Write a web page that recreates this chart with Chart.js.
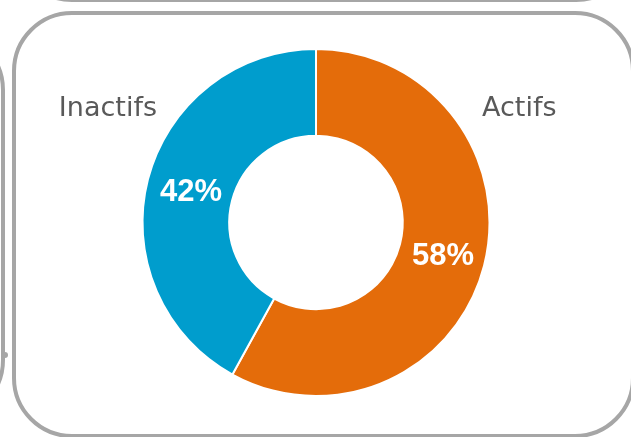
<!DOCTYPE html>
<html>
<head>
<meta charset="utf-8">
<script src="https://cdn.jsdelivr.net/npm/chart.js@4/dist/chart.umd.min.js"></script>
<style>
  html, body { margin: 0; padding: 0; background: #fff; overflow: hidden; }
  .frame { position: absolute; box-sizing: border-box; border: 4px solid #a6a6a6; border-radius: 60px; }
  #boxTop { left: 12px; top: -300px; width: 624px; height: 302px; }
  #boxLeft { left: -600px; top: 30px; width: 605px; height: 390px; }
  #boxMain { left: 12px; top: 11px; width: 623px; height: 427px; }
  #dot { position: absolute; left: 2px; top: 352px; width: 6px; height: 6px; border-radius: 3px; background: #a6a6a6; }
  #wrap { position: absolute; left: 0; top: 0; width: 631px; height: 437px; }
</style>
</head>
<body>
<div class="frame" id="boxTop"></div>
<div class="frame" id="boxLeft"></div>
<div id="dot"></div>
<div class="frame" id="boxMain"></div>
<div id="wrap"><canvas id="donut" width="631" height="437"></canvas></div>
<script>
const labels = ['Actifs', 'Inactifs'];
const values = [58, 42];
const colors = ['#E46C0A', '#009DCD'];

// draws the % inside each slice and the category names outside
const labelPlugin = {
  id: 'sliceLabels',
  afterDatasetsDraw(chart) {
    const ctx = chart.ctx;
    const meta = chart.getDatasetMeta(0);
    const total = values.reduce((a, b) => a + b, 0);
    ctx.save();
    ctx.textBaseline = 'middle';
    ctx.textAlign = 'center';
    ctx.fillStyle = '#ffffff';
    ctx.font = 'bold 31px "Liberation Sans", Arial, sans-serif';
    meta.data.forEach((arc, i) => {
      const p = arc.tooltipPosition();
      ctx.fillText(Math.round(values[i] / total * 100) + '%', p.x + 1, p.y + 2);
    });

    const cx = meta.data[0].x;
    ctx.font = '27px "DejaVu Sans", sans-serif';
    ctx.fillStyle = '#595959';
    ctx.textBaseline = 'alphabetic';
    ctx.textAlign = 'left';
    ctx.fillText(labels[0], cx + 166, 116);
    ctx.textAlign = 'right';
    ctx.fillText(labels[1], cx - 159, 116);
    ctx.restore();
  }
};

new Chart(document.getElementById('donut'), {
  type: 'doughnut',
  data: {
    labels: labels,
    datasets: [{
      data: values,
      backgroundColor: colors,
      borderColor: '#ffffff',
      borderWidth: 2
    }]
  },
  options: {
    responsive: false,
    animation: false,
    cutout: '50%',
    layout: { padding: { top: 48, bottom: 40, left: 1, right: 0 } },
    plugins: {
      legend: { display: false },
      tooltip: { enabled: false }
    }
  },
  plugins: [labelPlugin]
});
</script>
</body>
</html>
